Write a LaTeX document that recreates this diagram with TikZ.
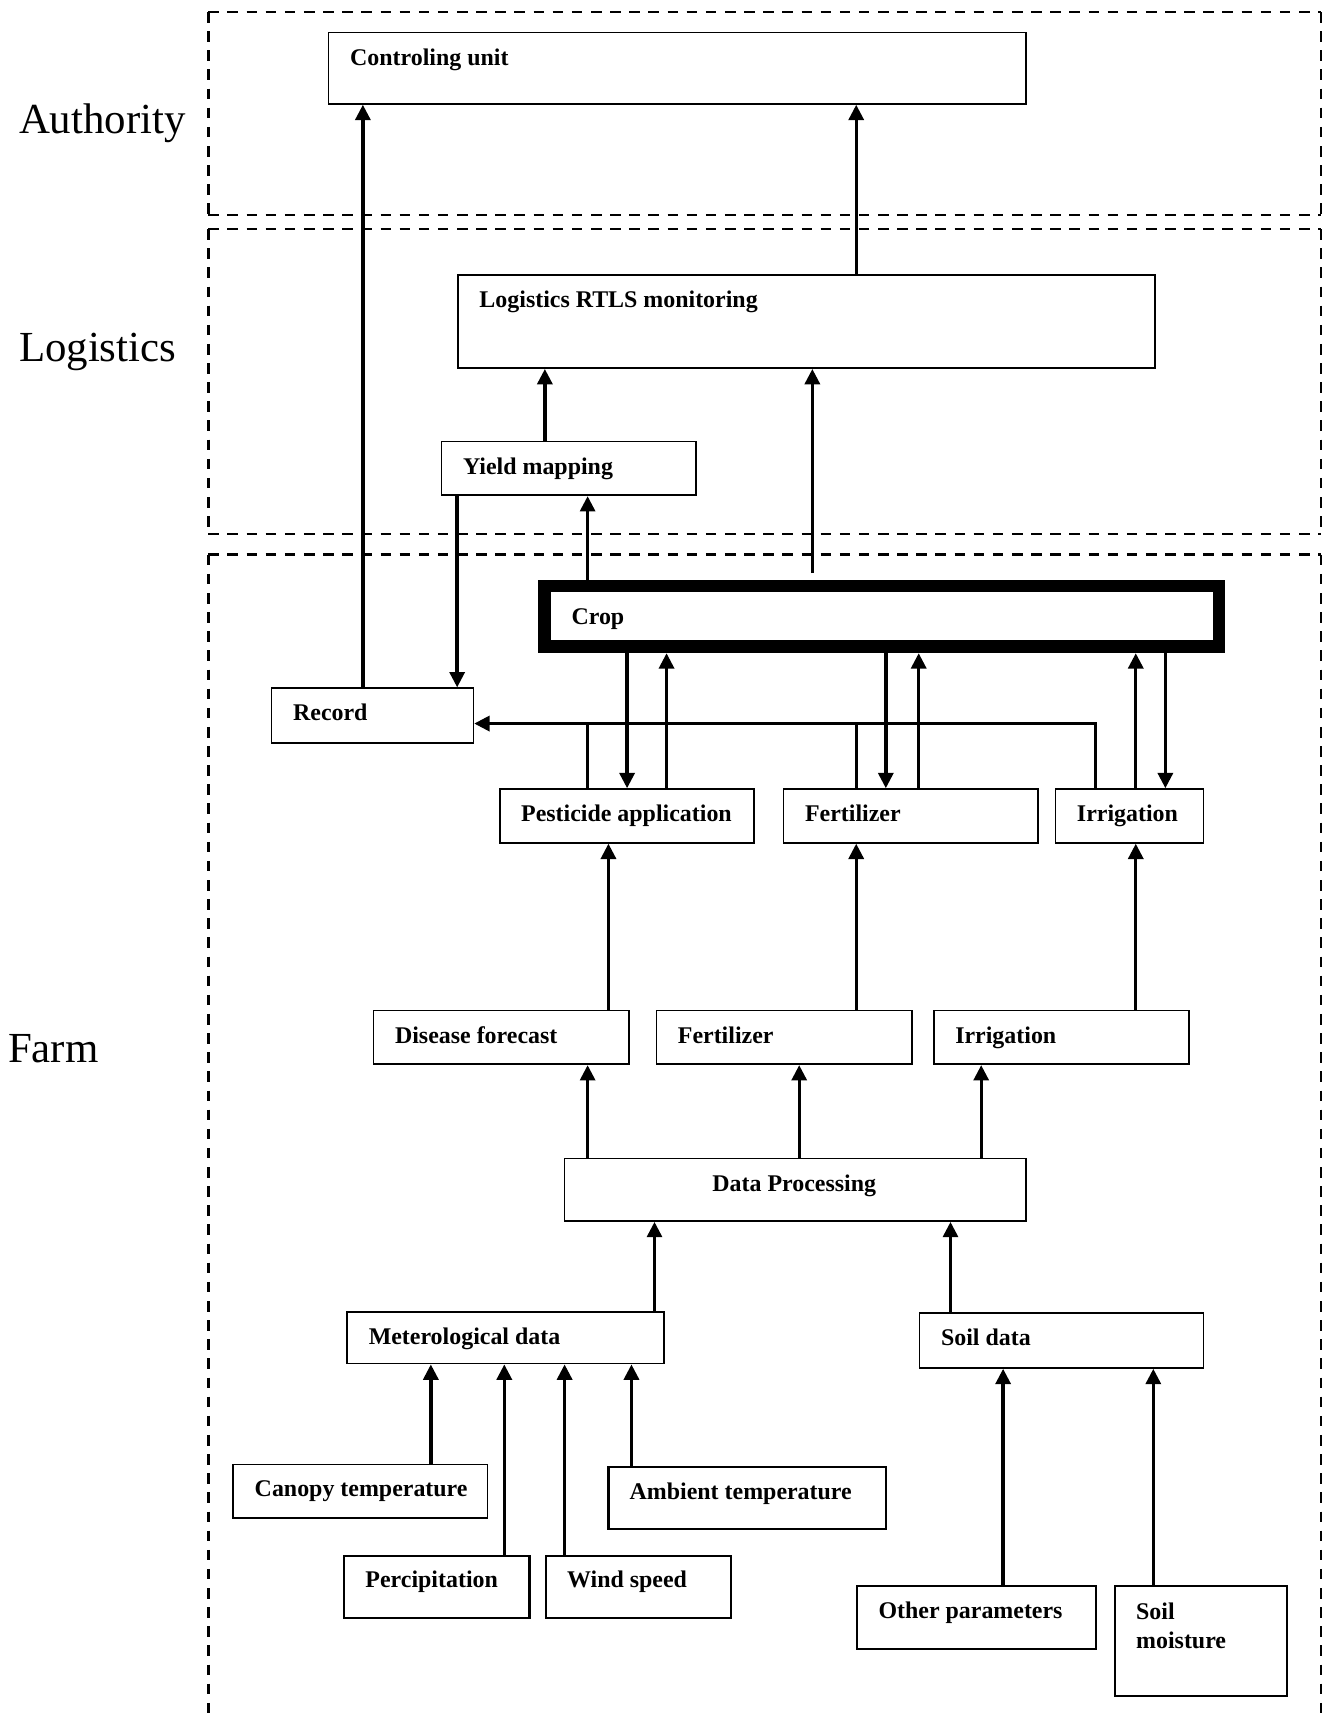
\documentclass[tikz,border=0pt]{standalone}
\usepackage{fontspec}
\setmainfont{Liberation Serif}
\usetikzlibrary{arrows.meta,calc}
\newcommand\mkbox[7][box]{%
  \node[#1, minimum width={(#5-#3)*0.55pt}, minimum height={(#6-#4)*0.55pt}] (#2) at (#3,#4) {};
  \node[lbl] (#2-t) at ({#3+20},{#4+30.4}) {#7};}
\begin{document}
\begin{tikzpicture}[x=0.55pt,y=-0.55pt,
  box/.style={draw, line width=0.85pt, inner sep=0pt, anchor=north west},
  boxb/.style={box, line width=1.1pt},
  lbl/.style={font=\fontsize{12}{14.3}\selectfont\bfseries, inner sep=0pt, anchor=base west},
  side/.style={font=\fontsize{21.5}{24}\selectfont, inner sep=0pt, anchor=base west},
  arr/.style={line width=1.7pt, -{Triangle[length=7.7pt,width=7.5pt]}},
  ln/.style={line width=1.7pt},
  dh/.style={line width=1.3pt, dash pattern=on 5.3pt off 4.3pt},
  dv/.style={line width=1.35pt, dash pattern=on 5.3pt off 4.3pt},
]
\useasboundingbox (0,0) rectangle (1210,1568);

% layer frames
\draw[dh] (190,11) -- (1205,11);
\draw[dh] (190,196) -- (1205,196);
\draw[dv] (190,11) -- (190,196);
\draw[dv] (1205,11) -- (1205,196);
\draw[dh] (190,209) -- (1205,209);
\draw[dh] (190,487) -- (1205,487);
\draw[dv] (190,209) -- (190,487);
\draw[dv] (1205,209) -- (1205,487);
\draw[dh] (190,506) -- (1205,506);
\draw[dv] (190,506) -- (190,1568);
\draw[dv] (1205,506) -- (1205,1568);

\node[side] (authority) at (17,122) {Authority};
\node[side] (logistics) at (17,330) {Logistics};
\node[side] (farm) at (7,969) {Farm};

% boxes
\mkbox{ctrl}{299}{29}{935}{94}{Controling unit}
\mkbox{rtls}{417}{250}{1053}{335}{Logistics RTLS monitoring}
\mkbox{yield}{402}{402}{634}{451}{Yield mapping}
\node[draw, line width=6.4pt, inner sep=0pt, minimum width={(1112-497)*0.55pt}, minimum height={(590-534.5)*0.55pt}] (crop) at (804.5,562.25) {};
\node[lbl] (crop-t) at (521,569.7) {Crop};
\mkbox{rec}{247}{627}{431}{677}{Record}
\mkbox{pest}{455}{719}{687}{768}{Pesticide application}
\mkbox{fert}{714}{719}{946}{768}{Fertilizer}
\mkbox{irr}{962}{719}{1097}{768}{Irrigation}
\mkbox{dis}{340}{921}{573}{970}{Disease forecast}
\mkbox{fertb}{598}{921}{831}{970}{Fertilizer}
\mkbox{irrb}{851}{921}{1084}{970}{Irrigation}
\node[box, minimum width={(935-514)*0.55pt}, minimum height={(1113-1056)*0.55pt}] (dp) at (514,1056) {};
\node[lbl, anchor=base] (dp-t) at (724.5,1086.4) {Data Processing};
\mkbox{met}{316}{1196}{605}{1243}{Meterological data}
\mkbox{soil}{838}{1197}{1097}{1247}{Soil data}
\mkbox{can}{212}{1335}{444}{1384}{Canopy temperature}
\mkbox[boxb]{amb}{554}{1337}{807}{1394}{Ambient temperature}
\mkbox[boxb]{per}{313}{1418}{482}{1475}{Percipitation}
\mkbox[boxb]{wind}{497}{1418}{666}{1475}{Wind speed}
\mkbox[boxb]{oth}{781}{1446}{999}{1503}{Other parameters}
\node[boxb, minimum width={(1173-1016)*0.55pt}, minimum height={(1546-1446)*0.55pt}] (mois) at (1016,1446) {};
\node[lbl, align=left, anchor=north west] (mois-t) at (1036,1461.8) {Soil\\moisture};

% column coordinates
\foreach \c in {331,393,417,460,497,515,536,555,572,576,597,608,729,741,781,808,838,867,895,915,999,1036,1052,1063}
  \coordinate (x\c) at (\c,0);
\coordinate (fb) at (0,660);

% connectors
\draw[arr] (rec.north -| x331) -- (ctrl.south -| x331);
\draw[arr] (rtls.north -| x781) -- (ctrl.south -| x781);
\draw[arr] (yield.north -| x497) -- (rtls.south -| x497);
\draw[arr] (yield.south -| x417) -- (rec.north -| x417);
\draw[arr] (crop.north -| x536) -- (yield.south -| x536);
\draw[arr] ($(crop.north -| x741)+(0,-6)$) -- (rtls.south -| x741);
\draw[arr] (crop.south -| x572) -- (pest.north -| x572);
\draw[arr] (pest.north -| x608) -- (crop.south -| x608);
\draw[arr] (crop.south -| x808) -- (fert.north -| x808);
\draw[arr] (fert.north -| x838) -- (crop.south -| x838);
\draw[arr] (irr.north -| x1036) -- (crop.south -| x1036);
\draw[arr] (crop.south -| x1063) -- (irr.north -| x1063);
\draw[arr] (irr.north -| x999) -- (x999 |- fb) -- (rec.east |- fb);
\draw[ln] (pest.north -| x536) -- (x536 |- fb);
\draw[ln] (fert.north -| x781) -- (x781 |- fb);
\draw[arr] (dis.north -| x555) -- (pest.south -| x555);
\draw[arr] (fertb.north -| x781) -- (fert.south -| x781);
\draw[arr] (irrb.north -| x1036) -- (irr.south -| x1036);
\draw[arr] (dp.north -| x536) -- (dis.south -| x536);
\draw[arr] (dp.north -| x729) -- (fertb.south -| x729);
\draw[arr] (dp.north -| x895) -- (irrb.south -| x895);
\draw[arr] (met.north -| x597) -- (dp.south -| x597);
\draw[arr] (soil.north -| x867) -- (dp.south -| x867);
\draw[arr] (can.north -| x393) -- (met.south -| x393);
\draw[arr] (per.north -| x460) -- (met.south -| x460);
\draw[arr] (wind.north -| x515) -- (met.south -| x515);
\draw[arr] (amb.north -| x576) -- (met.south -| x576);
\draw[arr] (oth.north -| x915) -- (soil.south -| x915);
\draw[arr] (mois.north -| x1052) -- (soil.south -| x1052);
\end{tikzpicture}
\end{document}
